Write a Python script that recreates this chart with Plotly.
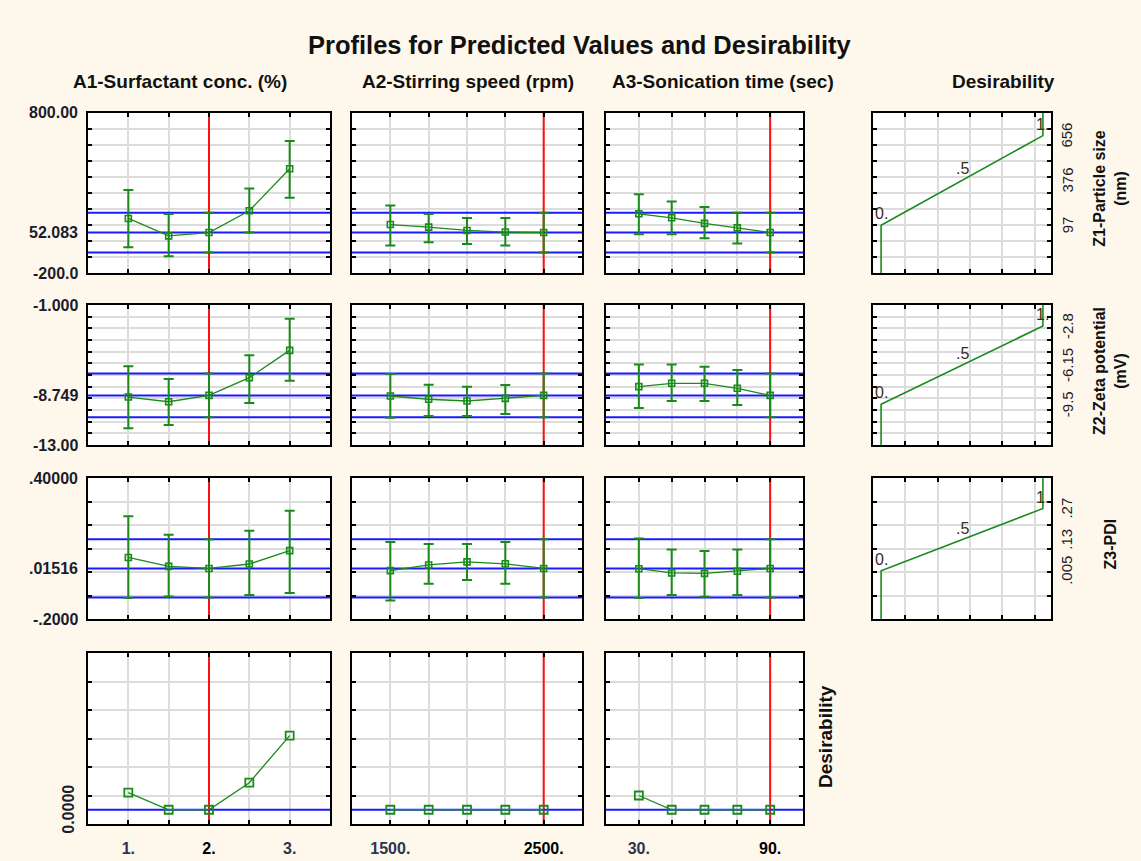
import plotly.graph_objects as go

# ---------------- data ----------------
factor_names = ["A1-Surfactant conc. (%)", "A2-Stirring speed (rpm)", "A3-Sonication time (sec)"]
a1_levels = [1.0, 1.5, 2.0, 2.5, 3.0]
a2_levels = [1500, 1750, 2000, 2250, 2500]
a3_levels = [30, 45, 60, 75, 90]
factor_levels = [a1_levels, a2_levels, a3_levels]
current_setting = [2.0, 2500, 90]
level_labels = [["1.", "", "2.", "", "3."],
                ["1500.", "", "", "", "2500."],
                ["30.", "", "", "", "90."]]

response_names = ["Z1-Particle size<br>(nm)", "Z2-Zeta potential<br>(mV)", "Z3-PDI"]

# Z1 particle size: prediction and confidence limits along each factor
z1_pred = [[140, 31, 52.083, 188, 450],
           [102, 86, 65, 55, 52.083],
           [169, 144, 109, 81, 52.083]]
z1_upper = [[317, 167, 176, 327, 623],
            [221, 167, 142, 142, 176],
            [290, 246, 211, 176, 176]]
z1_lower = [[-39, -96, -72, 52, 269],
            [-29, -8, -19, -29, -72],
            [42, 42, 17, -16, -72]]

# Z2 zeta potential
z2_pred = [[-8.89, -9.29, -8.749, -7.23, -4.89],
           [-8.80, -9.08, -9.23, -9.00, -8.749],
           [-8.00, -7.71, -7.71, -8.14, -8.749]]
z2_upper = [[-6.26, -7.34, -6.88, -5.31, -2.17],
            [-6.91, -7.83, -8.00, -7.86, -6.88],
            [-6.11, -6.11, -6.29, -6.57, -6.88]]
z2_lower = [[-11.57, -11.29, -10.62, -9.40, -7.49],
            [-10.66, -10.51, -10.51, -10.34, -10.62],
            [-9.83, -9.23, -9.23, -9.57, -10.62]]

# Z3 PDI
z3_pred = [[0.062, 0.024, 0.01516, 0.034, 0.091],
           [0.006, 0.030, 0.043, 0.035, 0.01516],
           [0.014, -0.004, -0.006, 0.003, 0.01516]]
z3_upper = [[0.237, 0.159, 0.139, 0.176, 0.261],
            [0.128, 0.119, 0.119, 0.128, 0.139],
            [0.143, 0.096, 0.089, 0.096, 0.139]]
z3_lower = [[-0.111, -0.104, -0.109, -0.098, -0.089],
            [-0.121, -0.050, -0.034, -0.050, -0.109],
            [-0.111, -0.098, -0.105, -0.098, -0.109]]

# value at the current setting: predicted, upper and lower limit
current_response = [[52.083, 176, -72],
                    [-8.749, -6.88, -10.62],
                    [0.01516, 0.139, -0.109]]

# overall desirability along each factor
desirability = [[0.12, 0.0, 0.0, 0.19, 0.52],
                [0.0, 0.0, 0.0, 0.0, 0.0],
                [0.10, 0.0, 0.0, 0.0, 0.0]]

# desirability functions of the responses (value giving d = 0, .5, 1)
d_levels = [0.0, 0.5, 1.0]
d_level_labels = ["0.", ".5", "1."]
d_thresholds = [[97, 376.5, 656],
                [-9.5, -6.15, -2.8],
                [0.005, 0.1375, 0.27]]
d_threshold_labels = [["97", "376", "656"],
                      ["-9.5", "-6.15", "-2.8"],
                      [".005", ".13", ".27"]]

# axis settings per row (rows 0-2 responses, row 3 desirability)
y_ranges = [[-200, 800], [-13, -1], [-0.2, 0.4], [-0.1, 1.1]]
y_steps = [100, 1, 0.1, 0.2]
y_label_values = [[800, 52.083, -200], [-1, -8.749, -13], [0.4, 0.01516, -0.2], [0.0]]
y_label_text = [["800.00", "52.083", "-200.0"], ["-1.000", "-8.749", "-13.00"],
                [".40000", ".01516", "-.2000"], ["0.0000"]]
x_ranges = [[0.5, 3.5], [1250, 2750], [15, 105]]
d_x_range = [-0.05, 1.05]
d_x_grid = [0.15, 0.35, 0.55, 0.75, 0.95]

# ---------------- styling / layout ----------------
W, H = 1141, 861
FONT = "Liberation Sans, Arial, sans-serif"
GREEN = "#1a8a1a"
BLUE = "#1a1aff"
RED = "#ff1010"
GRID = "#dcdcdc"
BG = "#fef8ec"
TXT = "#1c1c2a"

col_px = [(88, 330), (352, 582), (606, 803)]
dcol_px = (873, 1051)
row_px = [(112.5, 273), (305, 445), (478, 619), (653, 824)]


def fx(px):
    return px / W


def fy(py):
    return 1 - py / H


def sid(k):
    return "" if k == 1 else str(k)


preds = [z1_pred, z2_pred, z3_pred]
uppers = [z1_upper, z2_upper, z3_upper]
lowers = [z1_lower, z2_lower, z3_lower]

fig = go.Figure()
layout = dict(width=W, height=H, margin=dict(l=0, r=0, t=0, b=0), autosize=False,
              paper_bgcolor=BG, plot_bgcolor="white", showlegend=False,
              font=dict(family=FONT, color=TXT))
shapes = []
annotations = []

axis_common = dict(showline=True, linecolor="black", linewidth=2, mirror="ticks",
                   ticks="inside", ticklen=4, tickwidth=2, tickcolor="black",
                   showgrid=True, gridcolor=GRID, gridwidth=2, zeroline=False,
                   fixedrange=True)


def frange(lo, hi, step):
    n = int(round((hi - lo) / step))
    return [lo + i * step for i in range(1, n)]


# main profile panels
for r in range(4):
    for c in range(3):
        k = r * 3 + c + 1
        xs, ys = "x" + sid(k), "y" + sid(k)
        xa = dict(axis_common, domain=[fx(col_px[c][0]), fx(col_px[c][1])], anchor=ys,
                  range=x_ranges[c], tickvals=factor_levels[c])
        if r == 3:
            txt = []
            for v, lab in zip(factor_levels[c], level_labels[c]):
                if lab and v == current_setting[c]:
                    txt.append(f"<b><span style='color:#000'>{lab}</span></b>")
                elif lab:
                    txt.append(f"<b>{lab}</b>")
                else:
                    txt.append("")
            xa.update(ticktext=txt, showticklabels=True, ticklabelstandoff=9,
                      tickfont=dict(size=16, color="#2b3550", family=FONT))
        else:
            xa.update(showticklabels=False)
        ya = dict(axis_common, domain=[fy(row_px[r][1]), fy(row_px[r][0])], anchor=xs,
                  range=y_ranges[r], tickvals=frange(y_ranges[r][0], y_ranges[r][1], y_steps[r]),
                  showticklabels=False)
        layout["xaxis" + sid(k)] = xa
        layout["yaxis" + sid(k)] = ya

        # current setting
        shapes.append(dict(type="line", xref=xs, yref=ys,
                           x0=current_setting[c], x1=current_setting[c],
                           y0=y_ranges[r][0], y1=y_ranges[r][1],
                           line=dict(color=RED, width=2), layer="between"))
        blue_vals = current_response[r] if r < 3 else [0.0]
        for v in blue_vals:
            shapes.append(dict(type="line", xref=xs, yref=ys,
                               x0=x_ranges[c][0], x1=x_ranges[c][1], y0=v, y1=v,
                               line=dict(color=BLUE, width=2), layer="between"))
        if r < 3:
            p, u, lo = preds[r][c], uppers[r][c], lowers[r][c]
            fig.add_trace(go.Scatter(
                x=factor_levels[c], y=p, mode="lines+markers",
                line=dict(color=GREEN, width=1.3),
                marker=dict(symbol="square-open", size=6, color=GREEN, line=dict(width=1.6)),
                error_y=dict(type="data", symmetric=False,
                             array=[a - b for a, b in zip(u, p)],
                             arrayminus=[b - a for a, b in zip(lo, p)],
                             color=GREEN, thickness=2, width=5),
                xaxis=xs, yaxis=ys, hoverinfo="skip"))
        else:
            fig.add_trace(go.Scatter(
                x=factor_levels[c], y=desirability[c], mode="lines+markers",
                line=dict(color=GREEN, width=1.3),
                marker=dict(symbol="square-open", size=8, color=GREEN, line=dict(width=1.8)),
                xaxis=xs, yaxis=ys, hoverinfo="skip"))

# value labels on the left side of the first column
for r in range(4):
    ys = "y" + sid(r * 3 + 1)
    for v, t in zip(y_label_values[r], y_label_text[r]):
        if r < 3:
            annotations.append(dict(xref="paper", yref=ys, x=fx(80), y=v,
                                    text=f"<b>{t}</b>", showarrow=False,
                                    xanchor="right", yanchor="middle",
                                    font=dict(size=16, color=TXT, family=FONT)))
        else:
            annotations.append(dict(xref="paper", yref=ys, x=fx(69), y=v,
                                    text=f"<b>{t}</b>", textangle=-90, showarrow=False,
                                    xanchor="center", yanchor="middle",
                                    font=dict(size=16, color=TXT, family=FONT)))

# desirability-function panels on the right
for r in range(3):
    k = 13 + r
    xs, ys = "x" + sid(k), "y" + sid(k)
    layout["xaxis" + sid(k)] = dict(axis_common, domain=[fx(dcol_px[0]), fx(dcol_px[1])],
                                    anchor=ys, range=d_x_range, tickvals=d_x_grid,
                                    showticklabels=False)
    layout["yaxis" + sid(k)] = dict(axis_common, domain=[fy(row_px[r][1]), fy(row_px[r][0])],
                                    anchor=xs, range=y_ranges[r],
                                    tickvals=frange(y_ranges[r][0], y_ranges[r][1], y_steps[r]),
                                    showticklabels=False)
    lo_v, mid_v, hi_v = d_thresholds[r]
    fig.add_trace(go.Scatter(
        x=[d_levels[0], d_levels[0], d_levels[2], d_levels[2]],
        y=[y_ranges[r][0], lo_v, hi_v, y_ranges[r][1]],
        mode="lines", line=dict(color=GREEN, width=1.6),
        xaxis=xs, yaxis=ys, hoverinfo="skip"))
    for d, lab, yv in zip(d_levels, d_level_labels, d_thresholds[r]):
        annotations.append(dict(xref=xs, yref=ys, x=d, y=yv, text=lab,
                                showarrow=False, xanchor="center", yanchor="bottom",
                                yshift=1, font=dict(size=16, color="#3a2c18", family=FONT)))
    # threshold labels on the right side
    for yv, lab in zip(d_thresholds[r], d_threshold_labels[r]):
        annotations.append(dict(xref="paper", yref=ys, x=fx(1067), y=yv, text=lab,
                                textangle=-90, showarrow=False,
                                xanchor="center", yanchor="middle",
                                font=dict(size=15, color=TXT, family=FONT)))
    annotations.append(dict(xref="paper", yref="paper", x=fx(1110),
                            y=fy((row_px[r][0] + row_px[r][1]) / 2 - 4),
                            text=f"<b>{response_names[r]}</b>", textangle=-90,
                            showarrow=False, xanchor="center", yanchor="middle",
                            font=dict(size=16, color="#111", family=FONT)))

# titles and headers
annotations.append(dict(xref="paper", yref="paper", x=fx(580), y=fy(45),
                        text="<b>Profiles for Predicted Values and Desirability</b>",
                        showarrow=False, xanchor="center", yanchor="middle",
                        font=dict(size=25.5, color="#111", family=FONT)))
header_x = [180, 468, 723]
for name, hx in zip(factor_names, header_x):
    annotations.append(dict(xref="paper", yref="paper", x=fx(hx), y=fy(81),
                            text=f"<b>{name}</b>", showarrow=False,
                            xanchor="center", yanchor="middle",
                            font=dict(size=19, color="#111", family=FONT)))
annotations.append(dict(xref="paper", yref="paper", x=fx(1004), y=fy(81),
                        text="<b>Desirability</b>", showarrow=False,
                        xanchor="center", yanchor="middle",
                        font=dict(size=19, color="#111", family=FONT)))
annotations.append(dict(xref="paper", yref="paper", x=fx(825), y=fy(737),
                        text="<b>Desirability</b>", textangle=-90, showarrow=False,
                        xanchor="center", yanchor="middle",
                        font=dict(size=19, color="#111", family=FONT)))

layout["shapes"] = shapes
layout["annotations"] = annotations
fig.update_layout(**layout)
fig.write_html("out.html")
